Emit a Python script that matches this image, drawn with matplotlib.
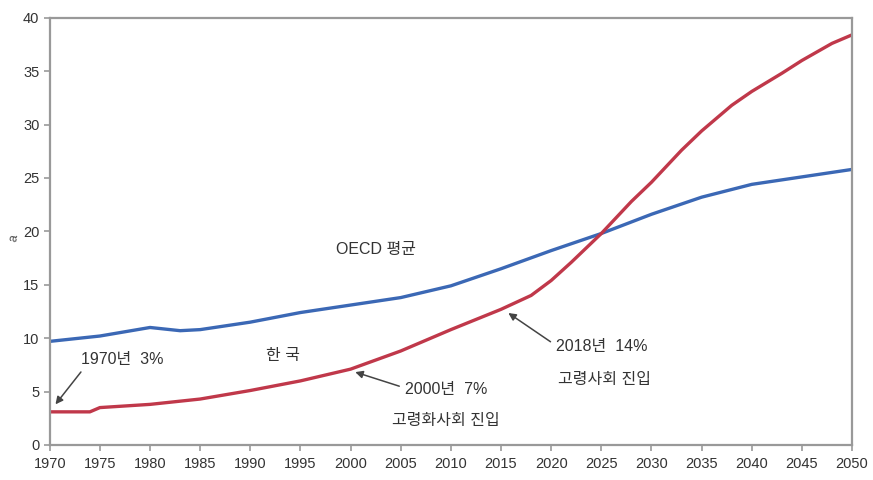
import matplotlib.pyplot as plt

plt.rcParams['font.family'] = ['Liberation Sans', 'Noto Sans CJK KR', 'DejaVu Sans']

# 고령인구 비율 (%)
korea_years = [1970, 1974, 1975, 1980, 1985, 1990, 1995, 2000, 2005, 2010,
               2015, 2018, 2020, 2022, 2025, 2028, 2030, 2033, 2035, 2038,
               2040, 2043, 2045, 2048, 2050]
korea_vals = [3.1, 3.1, 3.5, 3.8, 4.3, 5.1, 6.0, 7.1, 8.8, 10.8,
              12.7, 14.0, 15.4, 17.1, 19.8, 22.8, 24.6, 27.6, 29.4, 31.8,
              33.1, 34.8, 36.0, 37.6, 38.4]

oecd_years = [1970, 1975, 1980, 1983, 1985, 1990, 1995, 2000, 2005, 2010,
              2015, 2020, 2025, 2030, 2035, 2040, 2045, 2050]
oecd_vals = [9.7, 10.2, 11.0, 10.7, 10.8, 11.5, 12.4, 13.1, 13.8, 14.9,
             16.5, 18.2, 19.8, 21.6, 23.2, 24.4, 25.1, 25.8]

x_ticks = list(range(1970, 2051, 5))
y_ticks = list(range(0, 41, 5))

fig = plt.figure(figsize=(8.73, 4.8), dpi=100)
ax = fig.add_axes([0.057, 0.073, 0.919, 0.89])

ax.plot(oecd_years, oecd_vals, color='#3b68b5', lw=2.4)
ax.plot(korea_years, korea_vals, color='#c0384a', lw=2.4)

ax.set_xlim(1970, 2050)
ax.set_ylim(0, 40)
ax.set_xticks(x_ticks)
ax.set_yticks(y_ticks)
ax.tick_params(labelsize=10.5, colors='#999999', labelcolor='#333333', length=4, width=1.2)
ax.tick_params(axis='x', pad=5)
for s in ax.spines.values():
    s.set_color('#999999')
    s.set_linewidth(1.6)

arrow = dict(arrowstyle='-|>', color='#444444', lw=1.1, mutation_scale=11)
txt = dict(fontsize=11.5, color='#333333', ha='center', va='center')

ax.annotate('1970년  3%', xy=(1970.4, 3.6), xytext=(1977.2, 8.0),
            arrowprops=dict(arrow, relpos=(0.05, 0.0)), **txt)
ax.annotate('2000년  7%', xy=(2000.2, 6.9), xytext=(2009.5, 5.2),
            arrowprops=dict(arrow, relpos=(0.0, 0.6)), **txt)
ax.text(2009.5, 2.3, '고령화사회 진입', **txt)
ax.annotate('2018년  14%', xy=(2015.5, 12.5), xytext=(2025, 9.2),
            arrowprops=dict(arrow, relpos=(0.0, 0.6)), **txt)
ax.text(2025.3, 6.1, '고령사회 진입', **txt)

ax.text(1993.3, 8.4, '한 국', **txt)
ax.text(2002.5, 18.3, 'OECD 평균', **txt)

fig.text(0.016, 0.505, 'a', fontsize=9, color='#555555', rotation=80, ha='center', va='center')

fig.savefig('out.png', dpi=100, facecolor='white')
